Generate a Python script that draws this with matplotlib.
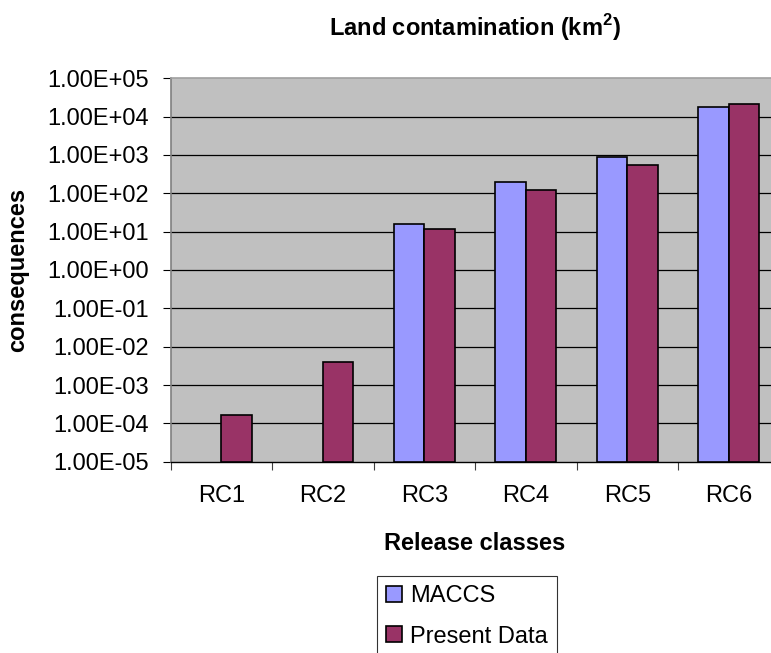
import matplotlib.pyplot as plt
import numpy as np
from matplotlib.patches import Patch

plt.rcParams['font.family'] = ['Liberation Sans', 'DejaVu Sans']
plt.rcParams['mathtext.fontset'] = 'custom'
plt.rcParams['mathtext.rm'] = 'Liberation Sans:bold'
plt.rcParams['mathtext.bf'] = 'Liberation Sans:bold'

# data
classes = ['RC1', 'RC2', 'RC3', 'RC4', 'RC5', 'RC6']
maccs = [np.nan, np.nan, 15.6, 195, 910, 18200]
present = [1.55e-4, 3.9e-3, 12.0, 120, 560, 21400]
yticks = [1e-5, 1e-4, 1e-3, 1e-2, 1e-1, 1e0, 1e1, 1e2, 1e3, 1e4, 1e5]

fs = 17
W, H = 771, 653
fig = plt.figure(figsize=(W / 100, H / 100), dpi=100)

# plot area runs past the right edge of the picture, like the original
ax = fig.add_axes([170.6 / W, 1 - 461.7 / H, 609 / W, 383.4 / H])
ax.set_facecolor('#C0C0C0')

x = np.arange(len(classes))
w = 0.3
ax.bar(x - w / 2, maccs, w, bottom=1e-5, color='#9999FF', edgecolor='black',
       linewidth=1.2, zorder=3, label='MACCS')
ax.bar(x + w / 2, present, w, bottom=1e-5, color='#993366', edgecolor='black',
       linewidth=1.2, zorder=3, label='Present Data')

ax.set_yscale('log')
ax.set_ylim(1e-5, 1e5)
ax.set_xlim(-0.5, len(classes) - 0.5)
ax.set_yticks(yticks)
ax.set_yticklabels(['%.2E' % v for v in yticks], fontsize=fs)
ax.yaxis.set_minor_locator(plt.NullLocator())
ax.tick_params(axis='y', length=5.8, width=0.8, pad=10, color='black')
for v in yticks[1:-1]:
    ax.axhline(v, color='black', linewidth=0.9, zorder=1)

# labels at centres, tick marks at the category boundaries
ax.set_xticks(x)
ax.set_xticklabels(classes, fontsize=fs)
ax.tick_params(axis='x', which='major', length=0, pad=17)
ax.set_xticks(np.arange(len(classes)) - 0.5, minor=True)
ax.tick_params(axis='x', which='minor', length=5.8, width=0.8, color='#404040')

ax.spines['left'].set_color('#808080')
ax.spines['left'].set_linewidth(1.2)
ax.spines['top'].set_color('#A0A0A0')
ax.spines['top'].set_linewidth(1.2)
ax.spines['bottom'].set_color('black')
ax.spines['bottom'].set_linewidth(1.0)
ax.spines['right'].set_color('#808080')

fig.text(475 / W, 1 - 28 / H, r'Land contamination (km$^{2}$)', fontsize=fs,
         fontweight='bold', ha='center', va='center')
fig.text(18 / W, 1 - 270 / H, 'consequences', fontsize=fs, fontweight='bold',
         rotation=90, ha='center', va='center')
fig.text(475 / W, 1 - 543 / H, 'Release classes', fontsize=fs,
         fontweight='bold', ha='center', va='center')

handles = [Patch(facecolor='#9999FF', edgecolor='black', linewidth=1.2),
           Patch(facecolor='#993366', edgecolor='black', linewidth=1.2)]
leg = fig.legend(handles, ['MACCS', 'Present Data'], loc='upper left',
                 bbox_to_anchor=(376.7 / W, 1 - 575.7 / H), borderaxespad=0,
                 fontsize=fs, frameon=True, fancybox=False, shadow=False,
                 handlelength=0.66, handleheight=0.66, handletextpad=0.35,
                 borderpad=0.4, labelspacing=0.78)
leg.get_frame().set_edgecolor('black')
leg.get_frame().set_linewidth(0.8)

fig.savefig('out.png', dpi=100)
